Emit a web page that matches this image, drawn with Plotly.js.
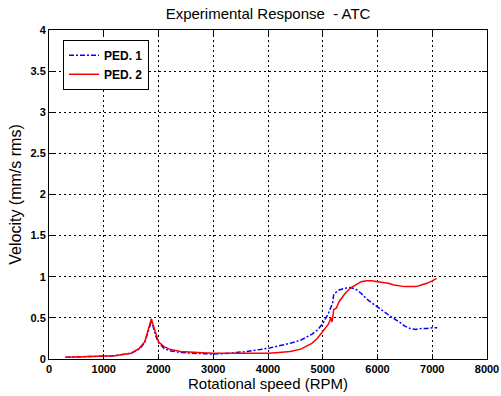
<!DOCTYPE html>
<html>
<head>
<meta charset="utf-8">
<script src="https://cdn.plot.ly/plotly-3.0.1.min.js"></script>
<style>html,body{margin:0;padding:0;background:#fff;}#chart{width:501px;height:396px;}</style>
</head>
<body>
<div id="chart"></div>
<script>
var ped1Speed = [300, 800, 1200, 1500, 1650, 1750, 1800, 1850, 1870, 1900, 1950, 2000, 2100, 2200, 2400, 2600, 2800, 3000, 3200, 3400, 3600, 3800, 4000, 4200, 4400, 4600, 4800, 4900, 5000, 5100, 5180, 5200, 5220, 5300, 5400, 5500, 5600, 5700, 5800, 5900, 6000, 6100, 6200, 6300, 6400, 6500, 6600, 6700, 6800, 6900, 7000, 7090];
var ped1Vel = [0.02, 0.03, 0.04, 0.07, 0.12, 0.2, 0.3, 0.42, 0.46, 0.4, 0.28, 0.2, 0.13, 0.1, 0.08, 0.07, 0.065, 0.06, 0.065, 0.075, 0.09, 0.11, 0.13, 0.16, 0.19, 0.23, 0.3, 0.35, 0.43, 0.55, 0.68, 0.78, 0.8, 0.84, 0.86, 0.87, 0.85, 0.8, 0.73, 0.68, 0.63, 0.58, 0.53, 0.49, 0.45, 0.4, 0.37, 0.36, 0.37, 0.37, 0.38, 0.38];
var ped2Speed = [300, 800, 1200, 1500, 1650, 1750, 1800, 1850, 1870, 1900, 1950, 2000, 2100, 2200, 2400, 2600, 2800, 3000, 3200, 3400, 3600, 3800, 4000, 4200, 4400, 4600, 4800, 4900, 5000, 5100, 5150, 5170, 5200, 5250, 5300, 5400, 5500, 5600, 5700, 5800, 5900, 6000, 6100, 6200, 6300, 6400, 6500, 6600, 6700, 6800, 6900, 7000, 7080];
var ped2Vel = [0.02, 0.03, 0.04, 0.07, 0.13, 0.21, 0.32, 0.45, 0.49, 0.42, 0.3, 0.21, 0.15, 0.12, 0.09, 0.08, 0.075, 0.07, 0.07, 0.07, 0.07, 0.07, 0.07, 0.08, 0.09, 0.12, 0.19, 0.25, 0.33, 0.42, 0.5, 0.45, 0.6, 0.62, 0.7, 0.79, 0.86, 0.9, 0.94, 0.95, 0.95, 0.94, 0.93, 0.92, 0.9, 0.89, 0.88, 0.88, 0.88, 0.9, 0.92, 0.95, 0.98];
var seriesNames = ["PED. 1", "PED. 2"];
var xTicks = [0, 1000, 2000, 3000, 4000, 5000, 6000, 7000, 8000];
var yTicks = [0, 0.5, 1, 1.5, 2, 2.5, 3, 3.5, 4];
var yTickText = ["0", "0.5", "1", "1.5", "2", "2.5", "3", "3.5", "4"];

var traces = [
  {x: ped1Speed, y: ped1Vel, name: seriesNames[0], type: "scatter", mode: "lines",
   line: {color: "#0000ff", width: 1.5, dash: "5px,2px,2px,2px"}},
  {x: ped2Speed, y: ped2Vel, name: seriesNames[1], type: "scatter", mode: "lines",
   line: {color: "#ff0000", width: 1.5}}
];
var axisCommon = {
  showline: true, linecolor: "#000", linewidth: 1, mirror: "ticks",
  ticks: "inside", ticklen: 5, tickcolor: "#000",
  showgrid: true, gridcolor: "#000", griddash: "2px,3px", gridwidth: 1,
  zeroline: false,
  tickfont: {family: "Liberation Sans, Arial, sans-serif", size: 11, color: "#000", weight: "bold"}
};
var layout = {
  width: 501, height: 396,
  margin: {l: 49, r: 14, t: 30, b: 37},
  paper_bgcolor: "#fff", plot_bgcolor: "#fff",
  title: {text: "Experimental Response  - ATC", x: 0.535, xanchor: "center", y: 0.965, yanchor: "middle",
          font: {family: "Liberation Sans, Arial, sans-serif", size: 15, color: "#000"}},
  xaxis: Object.assign({}, axisCommon, {
    range: [0, 8000], tickvals: xTicks, ticktext: xTicks.map(String),
    title: {text: "Rotational speed (RPM)", standoff: 1,
            font: {family: "Liberation Sans, Arial, sans-serif", size: 15, color: "#000"}}
  }),
  yaxis: Object.assign({}, axisCommon, {
    range: [0, 4], tickvals: yTicks, ticktext: yTickText,
    title: {text: "Velocity (mm/s rms)", standoff: 4,
            font: {family: "Liberation Sans, Arial, sans-serif", size: 16, color: "#000"}}
  }),
  showlegend: true,
  legend: {x: 0.032, y: 0.97, xanchor: "left", yanchor: "top",
           bgcolor: "#fff", bordercolor: "#000", borderwidth: 1,
           font: {family: "Liberation Sans, Arial, sans-serif", size: 12, color: "#000", weight: "bold"},
           tracegroupgap: 0, itemwidth: 30}
};
Plotly.newPlot("chart", traces, layout, {staticPlot: true, displayModeBar: false});
</script>
</body>
</html>
